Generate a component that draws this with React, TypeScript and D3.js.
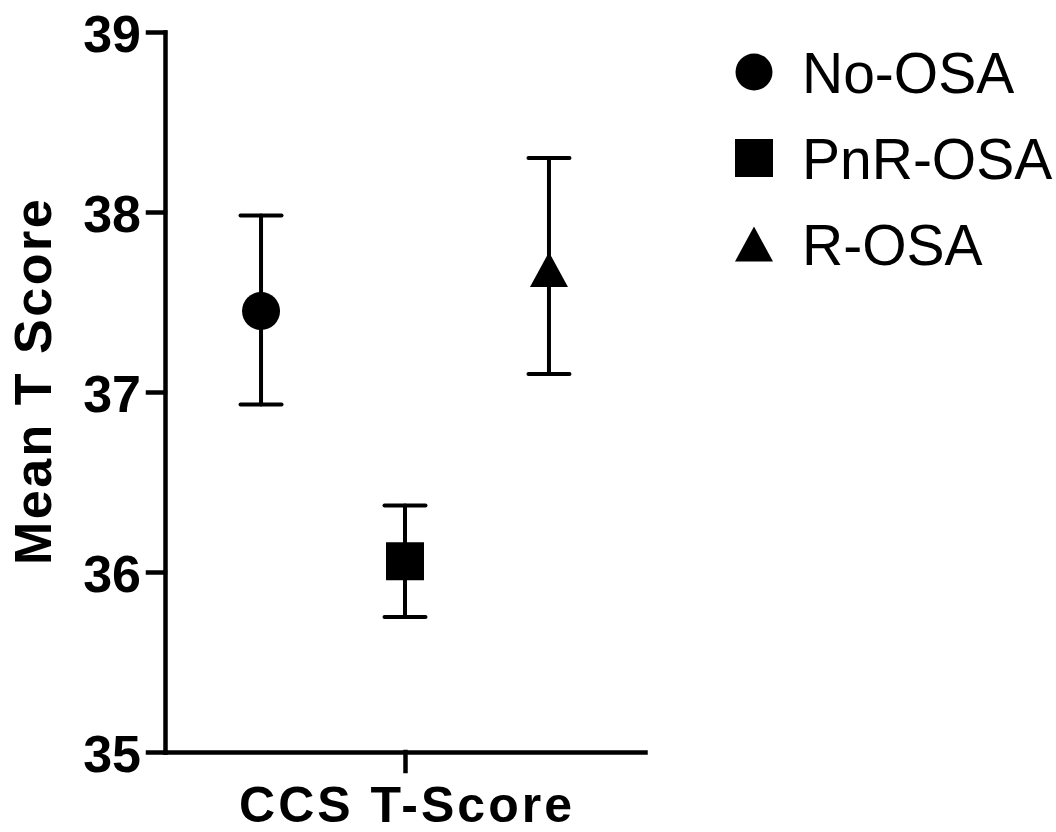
import { useEffect, useRef } from 'react';
import * as d3 from 'd3';

// groups and their mean / error bar ends
const groups = ['No-OSA', 'PnR-OSA', 'R-OSA'];
const means = [37.45, 36.06, 37.68];
const upper = [37.98, 36.37, 38.3];
const lower = [36.93, 35.75, 37.1];
const yTicks = [35, 36, 37, 38, 39];
const categories = ['CCS T-Score'];
const yTitle = 'Mean T Score';

const FONT = '"Liberation Sans", Arial, Helvetica, sans-serif';

// triangle centred on its bounding box
const triangle = {
  draw(ctx: d3.Path, size: number) {
    const w = Math.sqrt(size);
    const h = w * 0.92;
    ctx.moveTo(0, -h / 2);
    ctx.lineTo(w / 2, h / 2);
    ctx.lineTo(-w / 2, h / 2);
    ctx.closePath();
  },
};

const shapes = [d3.symbolCircle, d3.symbolSquare, triangle];
const sizes = [Math.PI * 19 * 19, 38 * 38, 38 * 38];

export default function App() {
  const svgRef = useRef<SVGSVGElement | null>(null);

  const width = 1056;
  const height = 832;
  const margin = { top: 32, left: 165, right: 411, bottom: 80 };
  const innerW = width - margin.left - margin.right;
  const innerH = height - margin.top - margin.bottom;

  useEffect(() => {
    const svg = d3.select(svgRef.current);
    svg.selectAll('*').remove();

    const g = svg
      .append('g')
      .attr('transform', `translate(${margin.left},${margin.top})`);

    const y = d3.scaleLinear().domain([35, 39]).range([innerH, 0]);
    const xCat = d3.scalePoint().domain(categories).range([0, innerW]).padding(0.5);
    const xGroup = d3.scalePoint().domain(groups).range([0, innerW]).padding(0.667);

    // y axis
    const yAxis = g
      .append('g')
      .call(
        d3
          .axisLeft(y)
          .tickValues(yTicks)
          .tickFormat(d3.format('d'))
          .tickSize(17)
          .tickSizeOuter(0)
          .tickPadding(7)
      );
    yAxis.selectAll('path, line').attr('stroke', '#000').attr('stroke-width', 4.5).attr('stroke-linecap', 'square');
    yAxis
      .selectAll('text')
      .attr('fill', '#000')
      .attr('font-family', FONT)
      .attr('font-weight', 'bold')
      .attr('font-size', 52)
      .attr('dy', '0.38em');

    // x axis
    const xAxis = g
      .append('g')
      .attr('transform', `translate(0,${innerH})`)
      .call(d3.axisBottom(xCat).tickSize(19).tickSizeOuter(0).tickPadding(15));
    xAxis.selectAll('path, line').attr('stroke', '#000').attr('stroke-width', 4.5).attr('stroke-linecap', 'square');
    xAxis
      .selectAll('text')
      .attr('fill', '#000')
      .attr('font-family', FONT)
      .attr('font-weight', 'bold')
      .attr('font-size', 50)
      .attr('letter-spacing', 3)
      .attr('dx', 1.5);

    // y title
    svg
      .append('text')
      .attr('transform', `translate(51,${381})rotate(-90)`)
      .attr('text-anchor', 'middle')
      .attr('font-family', FONT)
      .attr('font-weight', 'bold')
      .attr('font-size', 52)
      .attr('letter-spacing', 2.5)
      .text(yTitle);

    // error bars
    const capHalf = 20.5;
    groups.forEach((grp, i) => {
      const cx = xGroup(grp) as number;
      const eb = g.append('g').attr('stroke', '#000').attr('stroke-width', 4).attr('stroke-linecap', 'round');
      eb.append('line').attr('x1', cx).attr('x2', cx).attr('y1', y(upper[i])).attr('y2', y(lower[i]));
      eb.append('line').attr('x1', cx - capHalf).attr('x2', cx + capHalf).attr('y1', y(upper[i])).attr('y2', y(upper[i]));
      eb.append('line').attr('x1', cx - capHalf).attr('x2', cx + capHalf).attr('y1', y(lower[i])).attr('y2', y(lower[i]));

      g.append('path')
        .attr('transform', `translate(${cx},${y(means[i])})`)
        .attr('d', d3.symbol().type(shapes[i] as d3.SymbolType).size(sizes[i])() as string)
        .attr('fill', '#000');
    });

    // legend
    const legend = svg.append('g').attr('transform', 'translate(754,72)');
    groups.forEach((grp, i) => {
      const row = legend.append('g').attr('transform', `translate(0,${i * 86})`);
      row
        .append('path')
        .attr('d', d3.symbol().type(shapes[i] as d3.SymbolType).size(i === 0 ? Math.PI * 18.5 * 18.5 : sizes[i])() as string)
        .attr('fill', '#000');
      row
        .append('text')
        .attr('x', 48)
        .attr('y', 21)
        .attr('font-family', FONT)
        .attr('font-size', 57)
        .attr('fill', '#000')
        .text(grp);
    });
  }, []);

  return (
    <svg
      ref={svgRef}
      width={width}
      height={height}
      style={{ position: 'absolute', left: 0, top: 0, background: '#fff' }}
    ></svg>
  );
}
